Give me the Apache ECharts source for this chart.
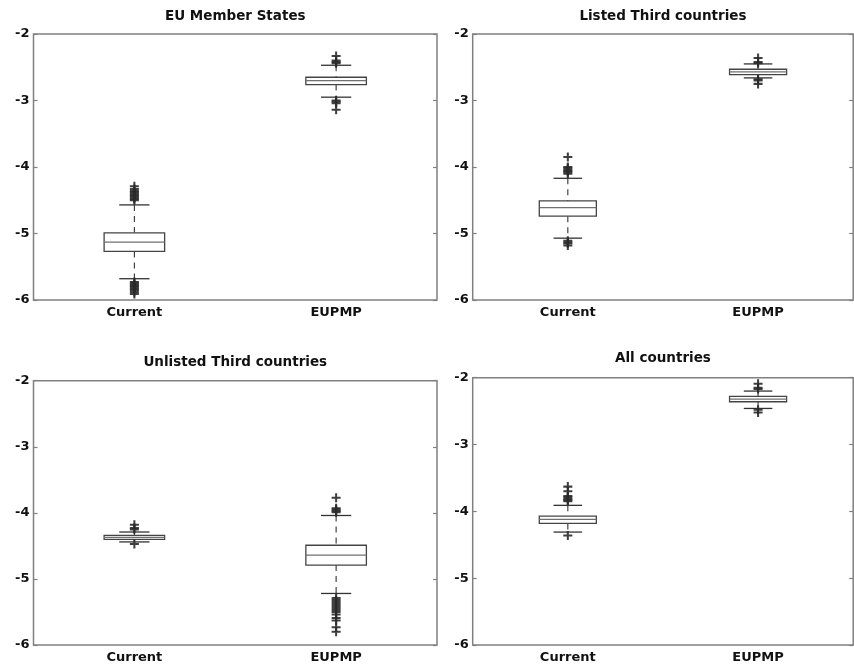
<!DOCTYPE html>
<html>
<head>
<meta charset="utf-8">
<script src="https://cdn.jsdelivr.net/npm/echarts@6/dist/echarts.min.js"></script>
<style>
html,body{margin:0;padding:0;background:#fff;}
#chart{width:854px;height:669px;}
</style>
</head>
<body>
<div id="chart"></div>
<script>
// ---------- data ----------
const categories = ['Current', 'EUPMP'];
const yTicks = [-6, -5, -4, -3, -2];
const panelTitles = ['EU Member States', 'Listed Third countries', 'Unlisted Third countries', 'All countries'];

// box stats per category: [lower whisker, Q1, median, Q3, upper whisker]
const euBoxes       = [[-5.68, -5.27, -5.13, -4.99, -4.57], [-2.95, -2.76, -2.70, -2.65, -2.47]];
const listedBoxes   = [[-5.07, -4.74, -4.61, -4.51, -4.17], [-2.66, -2.61, -2.57, -2.53, -2.45]];
const unlistedBoxes = [[-4.44, -4.40, -4.37, -4.34, -4.29], [-5.22, -4.79, -4.64, -4.49, -4.04]];
const allBoxes      = [[-4.31, -4.18, -4.12, -4.07, -3.91], [-2.46, -2.36, -2.32, -2.28, -2.20]];

// outliers per category
const euOutliers = [
  [-4.29, -4.33, -4.36, -4.38, -4.40, -4.42, -4.44, -4.46, -4.48, -4.50,
   -5.73, -5.75, -5.77, -5.79, -5.81, -5.83, -5.85, -5.88, -5.91],
  [-2.33, -2.40, -2.42, -2.44, -3.00, -3.02, -3.04, -3.14]
];
const listedOutliers = [
  [-3.85, -4.00, -4.02, -4.04, -4.06, -4.08, -4.10, -5.11, -5.13, -5.15, -5.18],
  [-2.36, -2.42, -2.44, -2.68, -2.70, -2.75]
];
const unlistedOutliers = [
  [-4.18, -4.23, -4.25, -4.47],
  [-3.77, -3.93, -3.95, -3.97, -3.99,
   -5.29, -5.32, -5.35, -5.38, -5.41, -5.44, -5.47, -5.50, -5.54, -5.59, -5.63, -5.73, -5.80]
];
const allOutliers = [
  [-3.63, -3.70, -3.77, -3.79, -3.81, -3.83, -3.85, -4.36],
  [-2.09, -2.15, -2.17, -2.48, -2.52]
];

const panelBoxes = [euBoxes, listedBoxes, unlistedBoxes, allBoxes];
const panelOutliers = [euOutliers, listedOutliers, unlistedOutliers, allOutliers];

// ---------- layout ----------
const grids = [
  {left: 33.5, top: 34, width: 403.5, height: 266},
  {left: 472.7, top: 34, width: 380.5, height: 266},
  {left: 33.5, top: 380.7, width: 403.5, height: 264.3},
  {left: 472.7, top: 377.7, width: 380.5, height: 267.3}
];
const titleTops = [9.5, 9.5, 355.5, 351.5];

const FONT = 'DejaVu Sans';
const frameColor = '#808080';
const PLUS = 'path://M3.1,0H4.9V3.1H8V4.9H4.9V8H3.1V4.9H0V3.1H3.1Z';

function renderBox(params, api) {
  const k = api.value(0);
  const pLow = api.coord([k, api.value(1)]);
  const pQ1 = api.coord([k, api.value(2)]);
  const pMed = api.coord([k, api.value(3)]);
  const pQ3 = api.coord([k, api.value(4)]);
  const pHigh = api.coord([k, api.value(5)]);
  const band = api.size([1, 0])[0];
  const bw = band * 0.3, cw = band * 0.15;
  const cx = pMed[0];
  const wStyle = {stroke: '#333', lineWidth: 1.1, lineDash: [6, 5]};
  const cStyle = {stroke: '#333', lineWidth: 1.3};
  return {
    type: 'group',
    children: [
      {type: 'line', shape: {x1: cx, y1: pHigh[1], x2: cx, y2: pQ3[1]}, style: wStyle},
      {type: 'line', shape: {x1: cx, y1: pQ1[1], x2: cx, y2: pLow[1]}, style: wStyle},
      {type: 'line', shape: {x1: cx - cw / 2, y1: pHigh[1], x2: cx + cw / 2, y2: pHigh[1]}, style: cStyle},
      {type: 'line', shape: {x1: cx - cw / 2, y1: pLow[1], x2: cx + cw / 2, y2: pLow[1]}, style: cStyle},
      {type: 'rect', shape: {x: cx - bw / 2, y: pQ3[1], width: bw, height: pQ1[1] - pQ3[1]},
       style: {fill: '#fff', stroke: '#444', lineWidth: 1.3}},
      {type: 'line', shape: {x1: cx - bw / 2, y1: pMed[1], x2: cx + bw / 2, y2: pMed[1]},
       style: {stroke: '#707070', lineWidth: 1.3}}
    ]
  };
}

const option = {
  animation: false,
  backgroundColor: '#fff',
  title: panelTitles.map((t, i) => ({
    text: t,
    left: grids[i].left + grids[i].width / 2,
    top: titleTops[i],
    textAlign: 'center',
    padding: 0,
    textStyle: {fontFamily: FONT, fontSize: 13.5, fontWeight: 'bold', color: '#111'}
  })),
  grid: grids.map(g => Object.assign({show: true, borderColor: frameColor, borderWidth: 1.5,
    backgroundColor: 'transparent', containLabel: false}, g)),
  xAxis: grids.map((g, i) => ({
    type: 'category', gridIndex: i, data: categories, boundaryGap: true,
    axisLine: {show: false}, axisTick: {show: false}, splitLine: {show: false},
    axisLabel: {margin: 6, fontFamily: FONT, fontSize: 13, fontWeight: 'bold', color: '#111'}
  })),
  yAxis: [],
  series: []
};

grids.forEach((g, i) => {
  const base = {
    type: 'value', gridIndex: i, min: yTicks[0], max: yTicks[yTicks.length - 1],
    interval: yTicks[1] - yTicks[0],
    axisLine: {show: false}, splitLine: {show: false},
    axisTick: {show: true, inside: true, length: 4, lineStyle: {color: frameColor, width: 1.2}}
  };
  option.yAxis.push(Object.assign({}, base, {
    position: 'left',
    axisLabel: {margin: 4, fontFamily: FONT, fontSize: 13, fontWeight: 'bold', color: '#111'}
  }));
  option.yAxis.push(Object.assign({}, base, {position: 'right', axisLabel: {show: false}}));

  option.series.push({
    type: 'custom', xAxisIndex: i, yAxisIndex: 2 * i,
    renderItem: renderBox,
    encode: {x: 0, y: [1, 2, 3, 4, 5]},
    data: panelBoxes[i].map((s, k) => [k].concat(s)),
    z: 2
  });
  const pts = [];
  panelOutliers[i].forEach((arr, k) => arr.forEach(v => pts.push([k, v])));
  option.series.push({
    type: 'scatter', xAxisIndex: i, yAxisIndex: 2 * i,
    symbol: PLUS, symbolSize: 9,
    itemStyle: {color: '#2a2a2a', opacity: 0.9},
    data: pts, z: 3
  });
});

const chart = echarts.init(document.getElementById('chart'), null, {renderer: 'canvas'});
chart.setOption(option);
</script>
</body>
</html>
